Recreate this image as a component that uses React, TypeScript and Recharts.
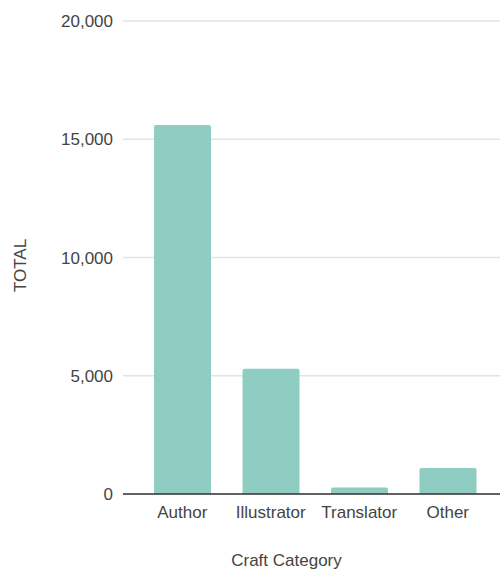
import { BarChart, Bar, XAxis, YAxis, CartesianGrid } from 'recharts';

const categories = ['Author', 'Illustrator', 'Translator', 'Other'];
const totals = [15600, 5300, 280, 1100];
const yTicks = [0, 5000, 10000, 15000, 20000];

const FONT = '"Liberation Sans", Arial, sans-serif';
const BAR_COLOR = '#8fcdc3';

const chartData = categories.map((name, i) => ({ name, total: totals[i] }));

function TotalLabel(props: any) {
  const { viewBox } = props;
  const cx = viewBox.x + 20;
  const cy = viewBox.y + viewBox.height / 2 + 8;
  return (
    <text
      x={cx}
      y={cy}
      transform={`rotate(-90, ${cx}, ${cy})`}
      textAnchor="middle"
      dominantBaseline="central"
      fill="#444"
      fontSize={17}
      fontFamily={FONT}
    >
      TOTAL
    </text>
  );
}

export default function App() {
  return (
    <div style={{ position: 'absolute', left: 0, top: 0, background: '#fff' }}>
      <BarChart
        width={500}
        height={569}
        data={chartData}
        margin={{ top: 21, right: 0, left: 0, bottom: 0 }}
      >
        <CartesianGrid horizontal vertical={false} stroke="#e3e3e3" strokeWidth={1.5} />
        <XAxis
          dataKey="name"
          height={75}
          padding={{ left: 15, right: 8 }}
          tickLine={false}
          tickMargin={6}
          axisLine={{ stroke: '#333', strokeWidth: 1.5 }}
          tick={{ fill: '#444', fontSize: 17, fontFamily: FONT }}
          label={{
            value: 'Craft Category',
            position: 'insideBottom',
            offset: 3,
            dx: -25,
            fill: '#444',
            fontSize: 17,
            fontFamily: FONT,
          }}
        />
        <YAxis
          width={123}
          domain={[0, 20000]}
          ticks={yTicks}
          axisLine={false}
          tickLine={false}
          tickMargin={4}
          tick={{ fill: '#444', fontSize: 17, fontFamily: FONT }}
          tickFormatter={(v: number) => v.toLocaleString('en-US')}
          label={(p: any) => <TotalLabel {...p} />}
        />
        <Bar
          dataKey="total"
          fill={BAR_COLOR}
          barSize={57}
          radius={[2, 2, 0, 0]}
          isAnimationActive={false}
        />
      </BarChart>
    </div>
  );
}
